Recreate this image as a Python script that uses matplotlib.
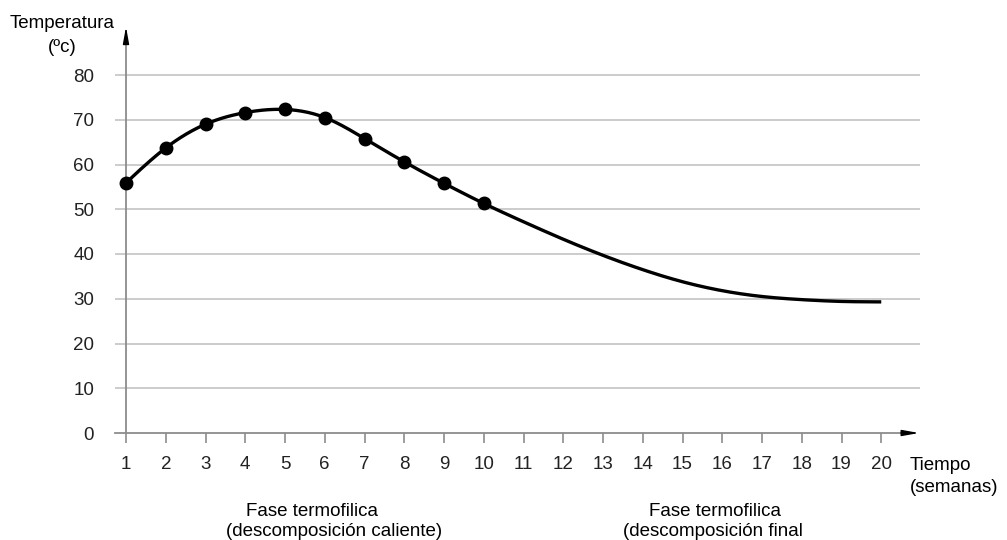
import numpy as np
import matplotlib
matplotlib.use("Agg")
import matplotlib.pyplot as plt

plt.rcParams['font.family'] = ['Liberation Sans', 'DejaVu Sans']

# ---- data ----
weeks = [1, 2, 3, 4, 5, 6, 7, 8, 9, 10, 11, 12, 13, 14, 15, 16, 17, 18, 19, 20]
temperature = [55.9, 63.7, 69.0, 71.6, 72.3, 70.5, 65.8, 60.6, 55.8, 51.3,
               47.2, 43.3, 39.7, 36.5, 33.8, 31.8, 30.5, 29.8, 29.4, 29.3]
measured_weeks = weeks[:10]
measured_temp = temperature[:10]
y_ticks = [0, 10, 20, 30, 40, 50, 60, 70, 80]
x_ticks = weeks


def natural_spline(x, y, xs):
    x = np.asarray(x, float); y = np.asarray(y, float)
    n = len(x)
    h = np.diff(x)
    A = np.zeros((n, n)); b = np.zeros(n)
    A[0, 0] = 1; A[-1, -1] = 1
    for i in range(1, n - 1):
        A[i, i - 1] = h[i - 1]
        A[i, i] = 2 * (h[i - 1] + h[i])
        A[i, i + 1] = h[i]
        b[i] = 3 * ((y[i + 1] - y[i]) / h[i] - (y[i] - y[i - 1]) / h[i - 1])
    c = np.linalg.solve(A, b)
    out = np.empty_like(xs)
    for k, xv in enumerate(xs):
        i = min(max(np.searchsorted(x, xv) - 1, 0), n - 2)
        dx = xv - x[i]
        bi = (y[i + 1] - y[i]) / h[i] - h[i] * (2 * c[i] + c[i + 1]) / 3
        di = (c[i + 1] - c[i]) / (3 * h[i])
        out[k] = y[i] + bi * dx + c[i] * dx ** 2 + di * dx ** 3
    return out


W, H = 1007, 540
fig = plt.figure(figsize=(W / 100, H / 100), dpi=100)
ax_left, ax_right, ax_bottom, ax_top = 115, 920, 433, 26
ax = fig.add_axes([ax_left / W, (H - ax_bottom) / H,
                   (ax_right - ax_left) / W, (ax_bottom - ax_top) / H])

px_per_week = 39.75
px_per_deg = 4.475
x0_px = 126
xmin = 1 - (x0_px - ax_left) / px_per_week
xmax = 1 + (ax_right - x0_px) / px_per_week
ymax = (ax_bottom - ax_top) / px_per_deg
ax.set_xlim(xmin, xmax)
ax.set_ylim(0, ymax)

for s in ax.spines.values():
    s.set_visible(False)

grid_c = '#c4c4c4'
axis_c = '#8c8c8c'
for yv in y_ticks[1:]:
    ax.axhline(yv, color=grid_c, lw=1.2, zorder=1)

# axes lines with arrows
ax.plot([xmin, 20.62], [0, 0], color=axis_c, lw=1.3, clip_on=False, zorder=2)
ax.annotate('', xy=(20.95, 0), xytext=(20.5, 0),
            arrowprops=dict(arrowstyle='-|>,head_length=1.0,head_width=0.18',
                            color='black', lw=1, shrinkA=0, shrinkB=0),
            annotation_clip=False)
ax.plot([1, 1], [0, 88], color=axis_c, lw=1.3, clip_on=False, zorder=2)
ax.annotate('', xy=(1, 90.8), xytext=(1, 87.5),
            arrowprops=dict(arrowstyle='-|>,head_length=1.0,head_width=0.18',
                            color='black', lw=1, shrinkA=0, shrinkB=0),
            annotation_clip=False)

fs = 13.5
ax.set_xticks(x_ticks)
ax.set_xticklabels([str(v) for v in x_ticks], fontsize=fs, color='#222222')
ax.tick_params(axis='x', length=7.5, width=1.2, color=axis_c, pad=9)
ax.set_yticks(y_ticks)
ax.set_yticklabels([str(v) for v in y_ticks], fontsize=fs, color='#222222')
ax.tick_params(axis='y', length=0, pad=15)

# curve
xs = np.linspace(weeks[0], weeks[-1], 400)
ax.plot(xs, natural_spline(weeks, temperature, xs), color='black', lw=2.4,
        zorder=4, solid_capstyle='butt')
ax.plot(measured_weeks, measured_temp, 'o', color='black', ms=9, zorder=5)

# texts
fig.text(62 / W, 1 - 23 / H, 'Temperatura', ha='center', va='center', fontsize=fs)
fig.text(62 / W, 1 - 47 / H, '(ºc)', ha='center', va='center', fontsize=fs)
fig.text(910 / W, 1 - 466 / H, 'Tiempo', ha='left', va='center', fontsize=fs)
fig.text(910 / W, 1 - 488 / H, '(semanas)', ha='left', va='center', fontsize=fs)
fig.text(312 / W, 1 - 511 / H, 'Fase termofilica', ha='center', va='center', fontsize=fs)
fig.text(334 / W, 1 - 532 / H, '(descomposición caliente)', ha='center', va='center', fontsize=fs)
fig.text(715 / W, 1 - 511 / H, 'Fase termofilica', ha='center', va='center', fontsize=fs)
fig.text(713 / W, 1 - 532 / H, '(descomposición final', ha='center', va='center', fontsize=fs)

fig.savefig('out.png', dpi=100, facecolor='white')
